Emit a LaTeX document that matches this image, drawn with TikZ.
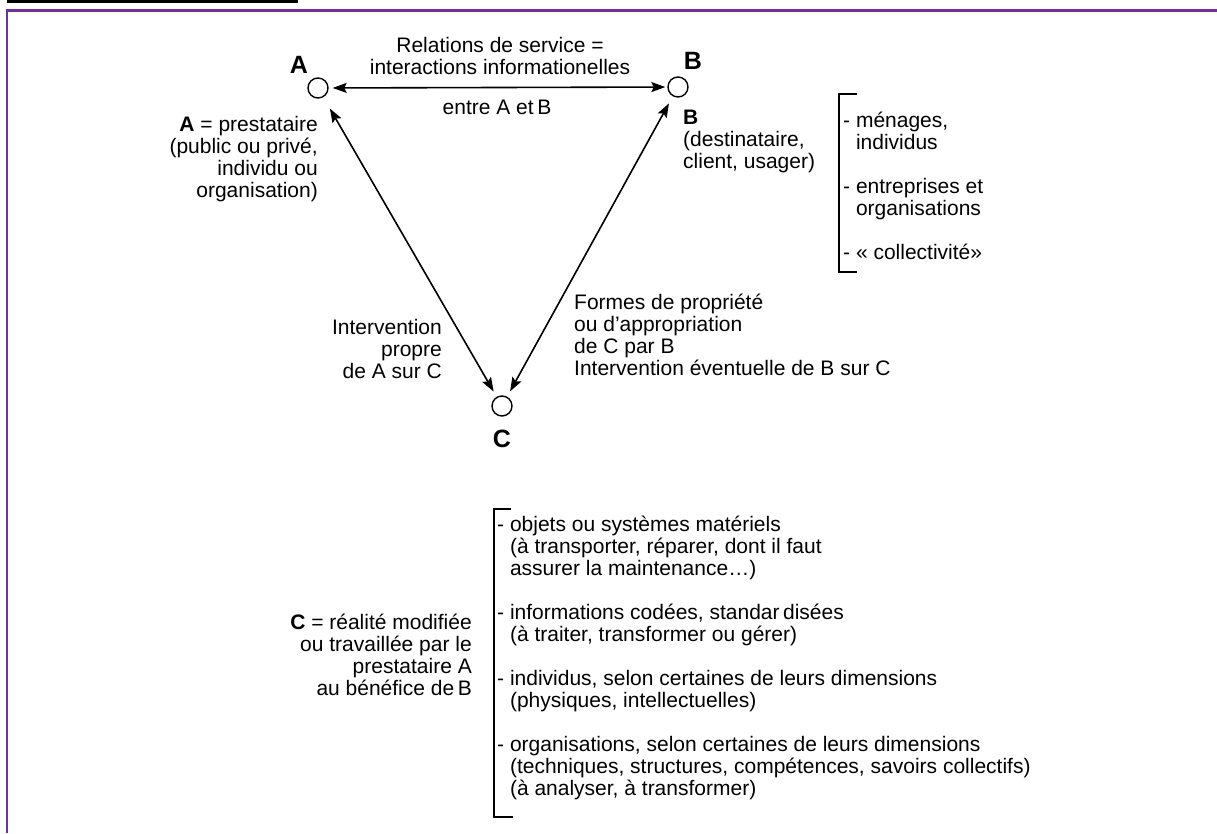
\documentclass[tikz,border=0pt]{standalone}
\usepackage{fontspec}
\setmainfont{Liberation Sans}
\usepackage{tikz}
\usetikzlibrary{arrows.meta}
\definecolor{framepurple}{RGB}{112,48,160}
\tikzset{
  vertex/.style={circle,draw,line width=1.4pt,minimum size=20pt,inner sep=0pt},
  txt/.style={inner sep=0pt,font=\fontsize{21}{22}\selectfont},
  polename/.style={inner sep=0pt,font=\fontsize{25}{25}\selectfont\bfseries},
  conn/.style={line width=1.6pt,{Stealth[length=14pt,width=10pt,inset=2.5pt]}-{Stealth[length=14pt,width=10pt,inset=2.5pt]}},
  bracket/.style={line width=1.1pt}
}

\begin{document}
\begin{tikzpicture}[x=1pt,y=-1pt]
\useasboundingbox (0,0) rectangle (1217,833);
% frame
\fill (7,0) rectangle (298,3.3);
\draw[framepurple,line width=2.7pt] (7,833) -- (7,10.5) -- (1217,10.5);

% the three poles
\node[vertex] (A) at (318,88) {};
\node[vertex] (B) at (678,87) {};
\node[vertex] (C) at (502,406) {};
\node[polename] (Alab) at (299,65) {A};
\node[polename] (Blab) at (693,61) {B};
\node[polename] (Clab) at (502,439) {C};

\draw[conn,shorten <=4pt,shorten >=2pt] (A) -- (B);
\draw[conn,shorten <=13pt,shorten >=6pt] (A) -- (C);
\draw[conn,shorten <=8pt,shorten >=6pt] (B) -- (C);

% labels of the sides (base = last line)
\node[txt,anchor=base,align=center] (reln) at (500,74) {Relations de service =\\interactions informationelles};
\node[txt,anchor=base] (entre) at (497,114) {entre A et\,B};
\node[txt,anchor=base east,align=right] (interA) at (442,378) {Intervention\\propre\\de A sur C};
\node[txt,anchor=base west,align=left] (formes) at (574,375) {Formes de propriété\\ou d’appropriation\\de C par B\\Intervention éventuelle de B sur C};

% descriptions
\node[txt,anchor=base east,align=right] (aDesc) at (318,197) {\textbf{A} = prestataire\\(public ou privé,\\individu ou\\organisation)};
\node[txt,anchor=base west,align=left] (bDesc) at (683,168) {\textbf{B}\\(destinataire,\\client, usager)};
\node[txt,anchor=base east,align=right] (cDesc) at (472,695) {\textbf{C} = réalité modifiée\\ou travaillée par le\\prestataire A\\au bénéfice de\,B};

% lists with brackets
\draw[bracket] (857,94) -| (839,272) -- (857,272);
\node[txt,anchor=base west,align=left] (bList) at (843,259) {- ménages,\\\hphantom{- }individus\\[22pt]- entreprises et\\\hphantom{- }organisations\\[22pt]- « collectivité»};

\draw[bracket] (511,509) -| (494,817) -- (513,817);
\node[txt,anchor=base west,align=left] (cList) at (497,795) {- objets ou systèmes matériels\\\hphantom{- }(à transporter, réparer, dont il faut\\\hphantom{- }assurer la maintenance…)\\[22pt]- informations codées, standar\,disées\\\hphantom{- }(à traiter, transformer ou gérer)\\[22pt]- individus, selon certaines de leurs dimensions\\\hphantom{- }(physiques, intellectuelles)\\[22pt]- organisations, selon certaines de leurs dimensions\\\hphantom{- }(techniques, structures, compétences, savoirs collectifs)\\\hphantom{- }(à analyser, à transformer)};
\end{tikzpicture}
\end{document}
